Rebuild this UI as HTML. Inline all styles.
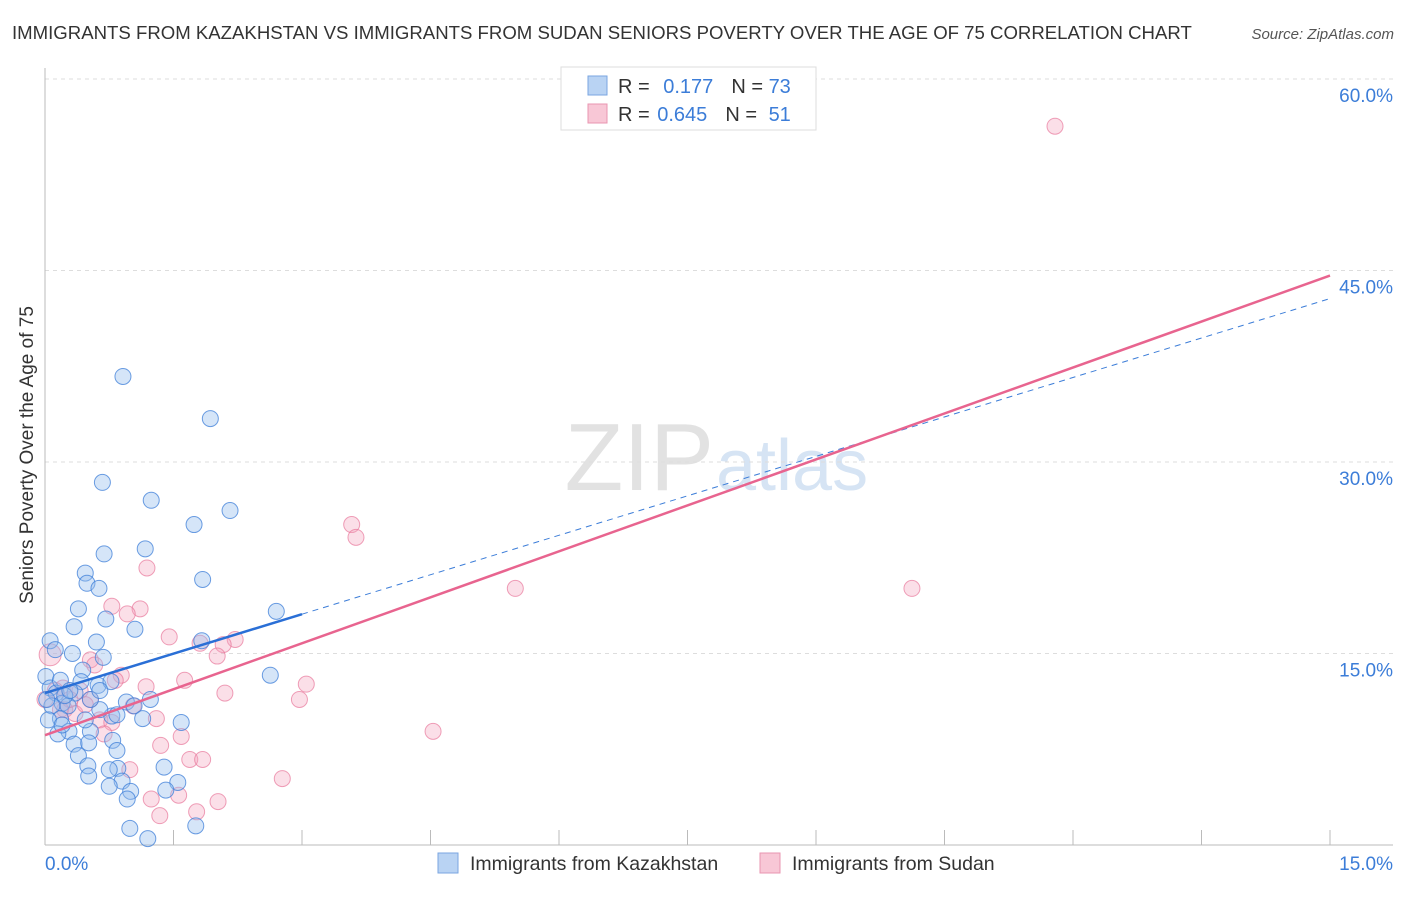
<!DOCTYPE html>
<html><head><meta charset="utf-8"><style>
body{margin:0;background:#fff;font-family:"Liberation Sans",sans-serif}
svg text{font-family:"Liberation Sans",sans-serif}
</style></head><body>
<svg id="c" width="1406" height="892">
<text x="12" y="39" font-size="18.6" fill="#333">IMMIGRANTS FROM KAZAKHSTAN VS IMMIGRANTS FROM SUDAN SENIORS POVERTY OVER THE AGE OF 75 CORRELATION CHART</text>
<text x="1394" y="39" font-size="15" fill="#555" font-style="italic" text-anchor="end">Source: ZipAtlas.com</text>
<text x="714" y="490" font-size="96" fill="#e2e2e2" text-anchor="end" font-family="Liberation Serif">ZIP</text>
<text x="716" y="490" font-size="72" fill="#d6e4f4">atlas</text>
<text x="33" y="455" font-size="19" fill="#333" text-anchor="middle" transform="rotate(-90 33 455)">Seniors Poverty Over the Age of 75</text>
<g id="grid"></g><g id="pts"></g><g id="lines"></g>
<g>
<rect x="561" y="67" width="255" height="63" fill="#fff" stroke="#ddd"/>
<rect x="588" y="76" width="19" height="19" fill="#b9d3f3" stroke="#7aa6e0"/>
<rect x="588" y="104" width="19" height="19" fill="#f8c7d6" stroke="#e995b0"/>
<text x="618" y="93" font-size="20" fill="#333">R = <tspan fill="#3c7dd8" dx="8">0.177</tspan><tspan dx="18" fill="#333">N = </tspan><tspan fill="#3c7dd8">73</tspan></text>
<text x="618" y="121" font-size="20" fill="#333">R = <tspan fill="#3c7dd8" dx="2">0.645</tspan><tspan dx="18" fill="#333">N = </tspan><tspan fill="#3c7dd8" dx="6">51</tspan></text>
</g>
<g>
<rect x="438" y="853" width="20" height="20" fill="#b9d3f3" stroke="#7aa6e0"/>
<text x="470" y="870" font-size="19.5" fill="#333">Immigrants from Kazakhstan</text>
<rect x="760" y="853" width="20" height="20" fill="#f8c7d6" stroke="#e995b0"/>
<text x="792" y="870" font-size="19.5" fill="#333">Immigrants from Sudan</text>
</g>
</svg>
<script>
const yTicks=[15,30,45,60];
const yTickLabels=["15.0%","30.0%","45.0%","60.0%"];
const xTickLabels=["0.0%","15.0%"];
const kzX=[0.91,1.93,0.67,1.24,2.16,1.74,0.69,1.17,0.47,0.49,0.63,1.84,0.39,2.70,0.71,1.05,0.34,0.06,0.60,1.83,0.68,0.32,0.44,0.01,0.42,0.62,0.06,0.77,0.13,0.35,2.63,0.95,1.04,0.20,0.08,0.27,0.78,0.84,0.18,1.14,1.59,0.28,0.15,0.53,0.34,0.51,0.79,0.84,0.39,0.50,0.85,1.39,0.51,0.90,1.55,0.75,1.41,1.00,0.96,1.76,0.99,1.20,0.64,0.04,0.23,0.12,0.75,0.18,0.53,0.29,0.02,0.64,0.47,1.23,0.20];
const kzY=[36.7,33.4,28.4,27.0,26.2,25.1,22.8,23.2,21.3,20.5,20.1,20.8,18.5,18.3,17.7,16.9,17.1,16.0,15.9,16.0,14.7,15.0,13.7,13.2,12.8,12.5,12.3,12.8,11.9,11.9,13.3,11.2,10.9,11.1,10.9,10.9,10.1,10.2,9.9,9.9,9.6,8.9,8.7,8.9,7.9,8.0,8.2,7.4,7.0,6.2,6.0,6.1,5.4,5.0,4.9,4.6,4.3,4.2,3.6,1.5,1.3,0.5,10.6,9.8,11.7,15.3,5.9,12.9,11.4,12.1,11.4,12.1,9.8,11.4,9.4];
const sdX=[11.79,3.58,3.63,5.49,10.12,1.19,0.78,1.11,0.96,1.45,2.22,2.08,1.81,2.01,0.06,0.53,0.89,1.63,3.05,1.18,2.10,0.21,0.53,2.97,1.03,0.23,0.35,0.64,1.30,0.78,1.59,0.69,4.53,1.35,1.69,1.84,0.99,2.77,1.24,1.56,2.02,1.34,1.77,0.12,0.41,0.29,0.58,0.18,0.47,0.82,0.0];
const sdY=[56.3,25.1,24.1,20.1,20.1,21.7,18.7,18.5,18.1,16.3,16.1,15.7,15.8,14.8,14.9,14.5,13.3,12.9,12.6,12.4,11.9,12.3,11.4,11.4,10.9,10.6,10.3,9.8,9.9,9.6,8.5,8.7,8.9,7.8,6.7,6.7,5.9,5.2,3.6,3.9,3.4,2.3,2.6,12.1,12.1,11.4,14.1,10.6,11.0,12.9,11.4];
const kzFit=[11.9,42.8,3.0]; // intercept, value at 15, solid end
const sdFit=[8.6,44.6];
const X=v=>45+v/15*1285, Y=v=>845-v/60*766;
const NS='http://www.w3.org/2000/svg';
function mk(p,t,a){const e=document.createElementNS(NS,t);for(const k in a)e.setAttribute(k,a[k]);p.appendChild(e);return e;}
const g=document.getElementById('grid');
yTicks.forEach((t,i)=>{
 const l=mk(g,'line',{x1:45,x2:1393,y1:Y(t),y2:Y(t),stroke:'#ddd','stroke-dasharray':'4,4'});
 
 
 const tx=mk(g,'text',{x:1393,y:Y(t)+23,'font-size':19,fill:'#3c7dd8','text-anchor':'end'});tx.textContent=yTickLabels[i];
 
 
});
mk(g,'line',{x1:45,x2:45,y1:68,y2:845,stroke:'#bbb'});
mk(g,'line',{x1:45,x2:1393,y1:845,y2:845,stroke:'#bbb'});
for(let i=1;i<=10;i++){mk(g,'line',{x1:X(i*1.5),x2:X(i*1.5),y1:830,y2:845,stroke:'#bbb'});}
const xl=mk(g,'text',{x:45,y:870,'font-size':19,fill:'#3c7dd8'});xl.textContent=xTickLabels[0];


const xr=mk(g,'text',{x:1393,y:870,'font-size':19,fill:'#3c7dd8','text-anchor':'end'});xr.textContent=xTickLabels[1];


const P=document.getElementById('pts');
sdX.forEach((x,i)=>{const c=mk(P,'circle',{cx:X(x),cy:Y(sdY[i]),r:i==14?11:8,fill:'rgba(244,164,190,0.35)',stroke:'rgba(232,120,155,0.7)','stroke-width':1});
 
 });
kzX.forEach((x,i)=>{const c=mk(P,'circle',{cx:X(x),cy:Y(kzY[i]),r:8,fill:'rgba(150,190,238,0.4)',stroke:'rgba(60,125,216,0.75)','stroke-width':1});
 
 });
const L=document.getElementById('lines');
const kf=x=>kzFit[0]+(kzFit[1]-kzFit[0])*x/15, sf=x=>sdFit[0]+(sdFit[1]-sdFit[0])*x/15;
const d=mk(L,'line',{x1:X(kzFit[2]),y1:Y(kf(kzFit[2])),x2:X(15),y2:Y(kf(15)),stroke:'#3c7dd8','stroke-width':1,'stroke-dasharray':'6,5'});


const s=mk(L,'line',{x1:X(0),y1:Y(sf(0)),x2:X(15),y2:Y(sf(15)),stroke:'#e8648f','stroke-width':2.5});


const b=mk(L,'line',{x1:X(0),y1:Y(kf(0)),x2:X(kzFit[2]),y2:Y(kf(kzFit[2])),stroke:'#2a6fd6','stroke-width':2.5});


</script>
</body></html>
